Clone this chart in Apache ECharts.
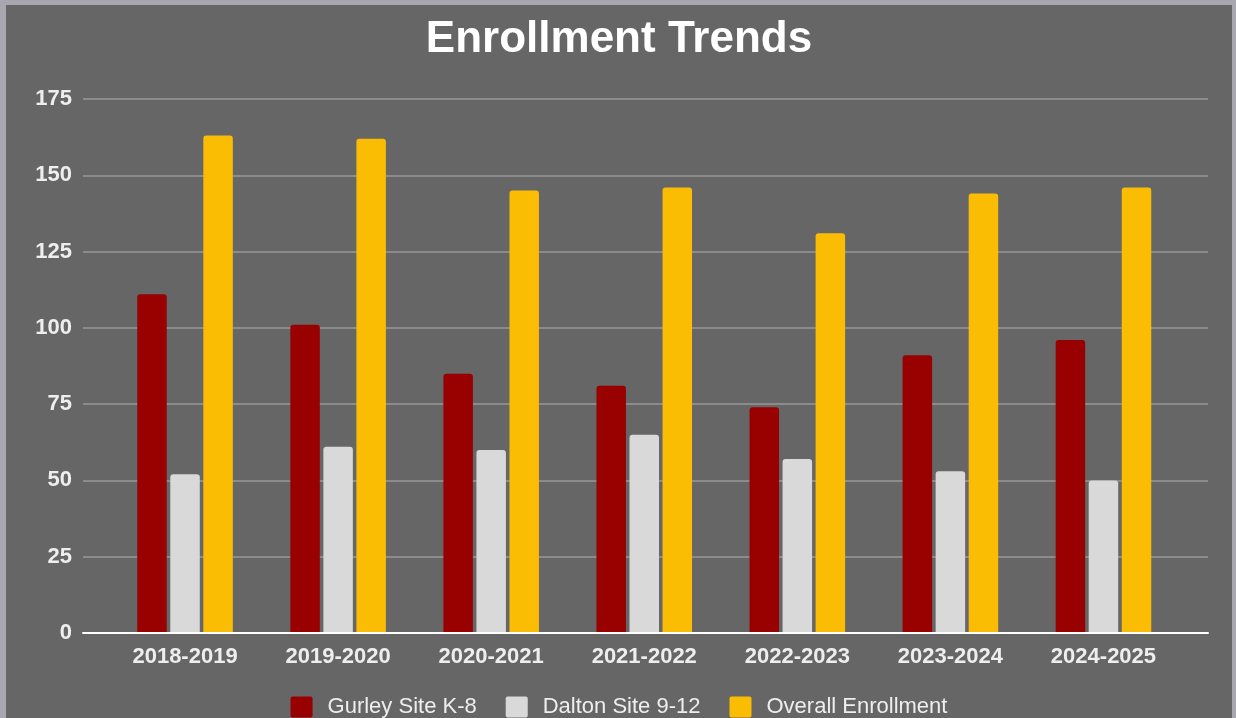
<!DOCTYPE html>
<html>
<head>
<meta charset="utf-8">
<script src="https://cdn.jsdelivr.net/npm/echarts@6/dist/echarts.min.js"></script>
<style>
  html, body { margin: 0; padding: 0; width: 1236px; height: 718px; overflow: hidden; background: #a8a7af; }
  #chart { position: absolute; left: 6px; top: 5px; width: 1226px; height: 713px; background: #666666; }
</style>
</head>
<body>
<div id="chart"></div>
<script>
// School years shown along the bottom
const schoolYears = ['2018-2019', '2019-2020', '2020-2021', '2021-2022', '2022-2023', '2023-2024', '2024-2025'];
// Enrollment counts per site and overall
const gurleyK8 = [111, 101, 85, 81, 74, 91, 96];
const daltonHS = [52, 61, 60, 65, 57, 53, 50];
const overall = [163, 162, 145, 146, 131, 144, 146];
// Value axis ticks
const yMin = 0, yMax = 175, yStep = 25;

const seriesNames = ['Gurley Site K-8', 'Dalton Site 9-12', 'Overall Enrollment'];
const seriesColors = ['#990000', '#d9d9d9', '#fbbc04'];
const seriesData = [gurleyK8, daltonHS, overall];

const labelFont = 'Arial, "Liberation Sans", sans-serif';
// square legend swatch with slightly softened corners
const swatch = 'path://M2,0 H20 Q22,0 22,2 V19 Q22,21 20,21 H2 Q0,21 0,19 V2 Q0,0 2,0 Z';

const chart = echarts.init(document.getElementById('chart'), null, { renderer: 'canvas' });

chart.setOption({
  backgroundColor: '#666666',
  animation: false,
  title: {
    text: 'Enrollment Trends',
    left: 'center',
    top: 8,
    textStyle: { color: '#ffffff', fontSize: 44, fontWeight: 'bold', fontFamily: labelFont }
  },
  legend: {
    data: seriesNames,
    left: 'center',
    top: 686,
    itemWidth: 22,
    itemHeight: 21,
    itemGap: 29,
    icon: swatch,
    textStyle: { color: '#eeeeee', fontSize: 22, fontFamily: labelFont, padding: [0, 0, 0, 10] }
  },
  grid: [
    // plot area for the bars
    { left: 102.5, width: 1071.5, top: 94, height: 534 },
    // wider frame carrying the gridlines, value labels and baseline
    { left: 77, width: 1125, top: 94, height: 534 }
  ],
  xAxis: [
    {
      type: 'category',
      gridIndex: 0,
      data: schoolYears,
      axisLine: { show: false },
      axisTick: { show: false },
      axisLabel: { color: '#eeeeee', fontSize: 22, fontWeight: 'bold', fontFamily: labelFont, margin: 13 }
    },
    {
      type: 'value',
      gridIndex: 1,
      min: 0, max: 1,
      axisLine: { show: true, lineStyle: { color: '#ffffff', width: 2 } },
      axisTick: { show: false },
      axisLabel: { show: false },
      splitLine: { show: false },
      z: 5
    }
  ],
  yAxis: [
    {
      type: 'value',
      gridIndex: 0,
      min: yMin, max: yMax, interval: yStep,
      show: false
    },
    {
      type: 'value',
      gridIndex: 1,
      min: yMin, max: yMax, interval: yStep,
      axisLine: { show: false },
      axisTick: { show: false },
      axisLabel: { color: '#eeeeee', fontSize: 22, fontWeight: 'bold', fontFamily: labelFont, margin: 11 },
      splitLine: { show: true, lineStyle: { color: '#999999', width: 1.5 } },
      z: 0
    }
  ],
  series: seriesNames.map((name, i) => ({
    name: name,
    type: 'bar',
    xAxisIndex: 0,
    yAxisIndex: 0,
    data: seriesData[i],
    barWidth: 29.5,
    barGap: '12%',
    itemStyle: { color: seriesColors[i], borderRadius: [3, 3, 0, 0] },
    z: 2
  }))
});
</script>
</body>
</html>
